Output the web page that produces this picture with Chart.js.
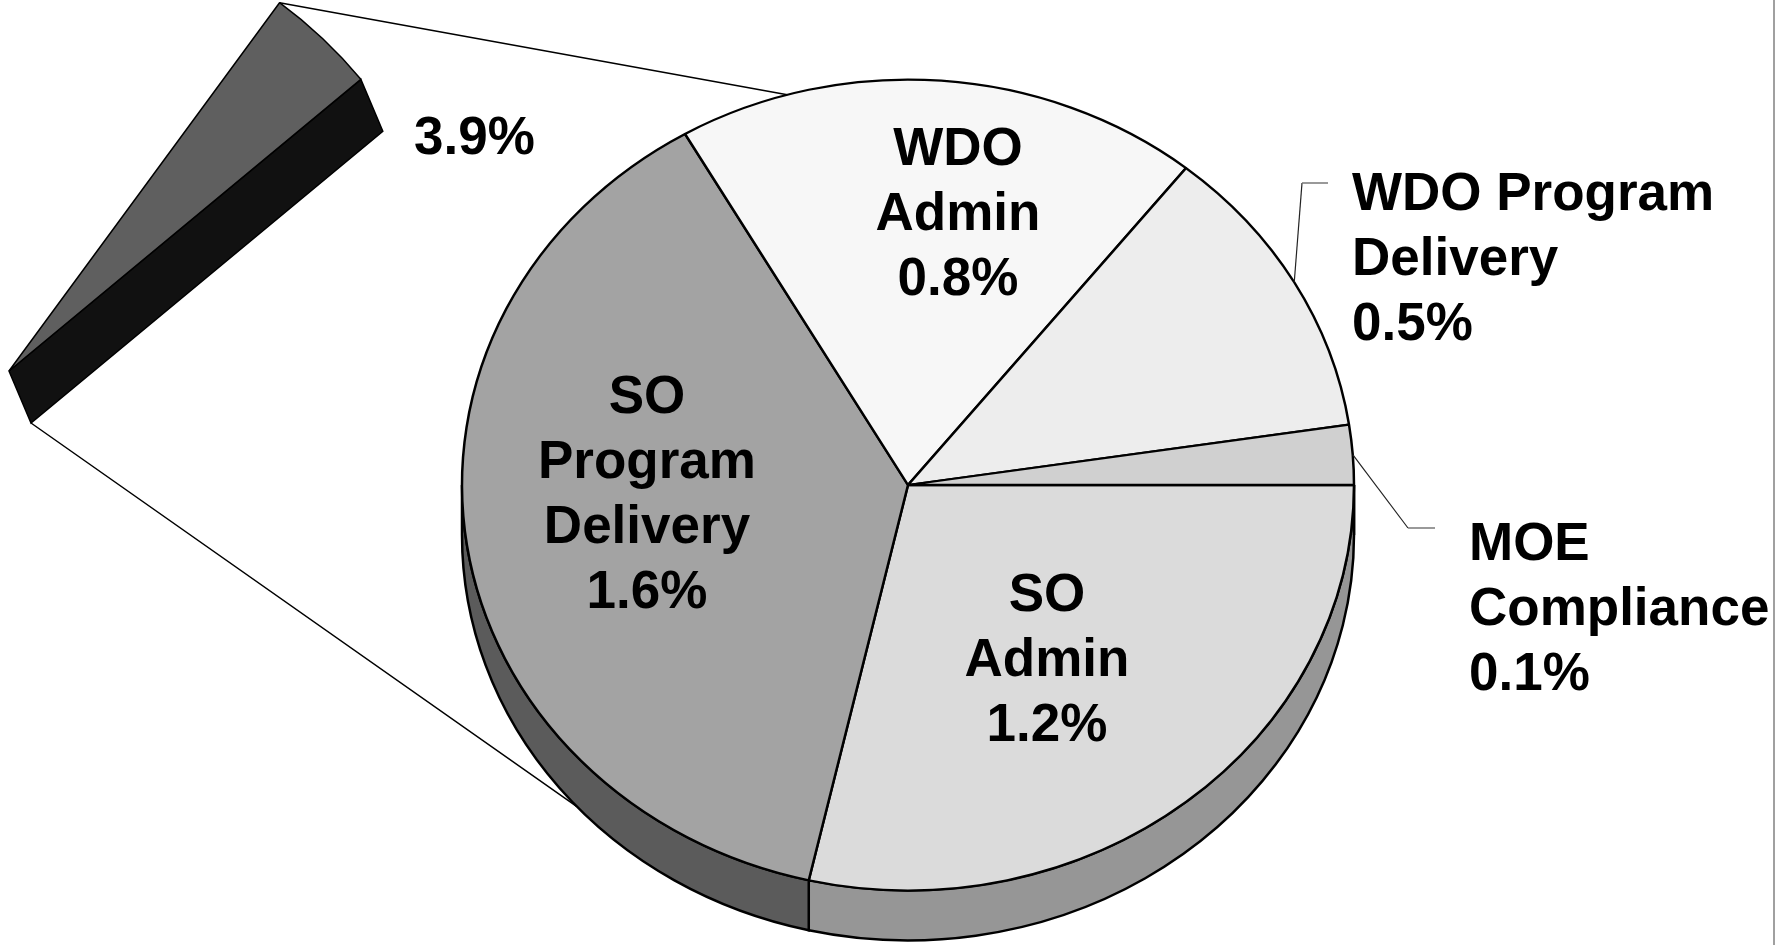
<!DOCTYPE html>
<html>
<head>
<meta charset="utf-8">
<script src="https://cdn.jsdelivr.net/npm/chart.js@4/dist/chart.umd.min.js"></script>
<style>
  html, body { margin: 0; padding: 0; background: #fff; overflow: hidden; }
  #scene { position: relative; width: 1792px; height: 945px; overflow: hidden; }
  canvas { position: absolute; }
  #graphique-principal { left: 0; top: 0; width: 1792px; height: 945px; }
  #graphique-part { left: -471px; top: -109px; width: 960px; height: 960px; }
</style>
</head>
<body>
<div id="scene">
  <canvas id="graphique-principal" width="1792" height="945"></canvas>
  <canvas id="graphique-part" width="960" height="960"></canvas>
</div>
<script>
// ── Donnees ─────────────────────────────────────────────
const categories = ['SO Admin', 'SO Program Delivery', 'WDO Admin', 'WDO Program Delivery', 'MOE Compliance'];
const valeurs    = [1.2, 1.6, 0.8, 0.5, 0.1];   // en %
const partTotale = 3.9;                           // part detachee (%)
const partReste  = 100 - partTotale;

// Decoupage des etiquettes sur plusieurs lignes
const lignesEtiquettes = [['SO', 'Admin'], ['SO', 'Program', 'Delivery'], ['WDO', 'Admin'], ['WDO Program', 'Delivery'], ['MOE', 'Compliance']];

// ── Styles / mise en page ───────────────────────────────
const couleursDessus = ['#dbdbdb', '#a3a3a3', '#f7f7f7', '#ededed', '#d0d0d0'];
const couleursCote   = ['#969696', '#5b5b5b', '#f7f7f7', '#ededed', '#a8a8a8'];
const APLAT = 0.909;       // rapport hauteur / largeur de l ellipse
const EPAISSEUR = 50;      // epaisseur 3D du camembert
const PROFONDEUR_PART = { dx: 22, dy: 52 };
const DECALAGE_PART = { x: -471, y: -109 };   // position du canvas de la part
const POLICE = "bold 53px 'Liberation Sans', Arial, sans-serif";
const INTERLIGNE = 65;

const positionsEtiquettes = [
    { x: 1047, y: 592, align: 'center' },
    { x: 647,  y: 394, align: 'center' },
    { x: 958,  y: 146, align: 'center' },
    { x: 1352, y: 191, align: 'left' },
    { x: 1469, y: 541, align: 'left' },
];
const positionTotale = { x: 414, y: 135 };
const coudesRenvois = { 3: [[1302, 183], [1328, 183]], 4: [[1408, 528], [1435, 528]] };
const anglesConnecteurs = { haut: 254.3, bas: 138 };   // sur l ellipse principale (degres)

const rad = d => d * Math.PI / 180;

function pointEllipse(arc, angle, bas) {
    return {
        x: arc.x + arc.outerRadius * Math.cos(angle),
        y: arc.y + arc.outerRadius * APLAT * Math.sin(angle) + (bas ? EPAISSEUR : 0),
    };
}

// ── Part detachee (3.9%) ────────────────────────────────
const pluginCotePart = {
    id: 'cotePart',
    beforeDatasetsDraw(chart) {
        const ctx = chart.ctx;
        const arc = chart.getDatasetMeta(0).data[0];
        const px = arc.x + arc.outerRadius * Math.cos(arc.endAngle);
        const py = arc.y + arc.outerRadius * Math.sin(arc.endAngle);
        const { dx, dy } = PROFONDEUR_PART;
        ctx.save();
        ctx.beginPath();
        ctx.moveTo(arc.x, arc.y);
        ctx.lineTo(px, py);
        ctx.lineTo(px + dx, py + dy);
        ctx.lineTo(arc.x + dx, arc.y + dy);
        ctx.closePath();
        ctx.fillStyle = '#111111';
        ctx.fill();
        ctx.lineWidth = 1.5;
        ctx.strokeStyle = '#000';
        ctx.stroke();
        ctx.restore();
    }
};

const graphiquePart = new Chart(document.getElementById('graphique-part'), {
    type: 'pie',
    data: {
        labels: ['Total', 'Reste'],
        datasets: [{
            data: [partTotale, partReste],
            backgroundColor: ['#5f5f5f', 'rgba(0,0,0,0)'],
            borderColor: ['#000', 'rgba(0,0,0,0)'],
            borderWidth: [1.5, 0],
            radius: 457,
            clip: false,
        }]
    },
    options: {
        responsive: false,
        animation: false,
        devicePixelRatio: 1,
        events: [],
        rotation: 36.3,
        plugins: { legend: { display: false }, tooltip: { enabled: false } }
    },
    plugins: [pluginCotePart]
});

// ── Camembert principal ─────────────────────────────────
const pluginRelief = {
    id: 'relief',
    beforeDatasetsDraw(chart) {
        const ctx = chart.ctx;
        const arcs = chart.getDatasetMeta(0).data;
        arcs.forEach((arc, i) => {
            const ry = arc.outerRadius * APLAT;
            [0, 2 * Math.PI].forEach(base => {
                const a0 = Math.max(arc.startAngle, base);
                const a1 = Math.min(arc.endAngle, base + Math.PI);
                if (a1 <= a0) return;
                ctx.beginPath();
                ctx.ellipse(arc.x, arc.y, arc.outerRadius, ry, 0, a0 - base, a1 - base);
                ctx.ellipse(arc.x, arc.y + EPAISSEUR, arc.outerRadius, ry, 0, a1 - base, a0 - base, true);
                ctx.closePath();
                ctx.fillStyle = couleursCote[i];
                ctx.fill();
                ctx.lineWidth = 2.5;
                ctx.strokeStyle = '#000';
                ctx.stroke();
            });
        });
        const c = arcs[0];
        ctx.save();
        ctx.translate(c.x, c.y);
        ctx.scale(1, APLAT);
        ctx.translate(-c.x, -c.y);
    },
    afterDatasetsDraw(chart) {
        chart.ctx.restore();
    },
    afterDraw(chart) {
        const ctx = chart.ctx;
        const arcs = chart.getDatasetMeta(0).data;
        const part = graphiquePart.getDatasetMeta(0).data[0];
        ctx.save();

        // connecteurs entre la part et le camembert
        const p1 = {
            x: part.x + part.outerRadius * Math.cos(part.startAngle) + DECALAGE_PART.x,
            y: part.y + part.outerRadius * Math.sin(part.startAngle) + DECALAGE_PART.y,
        };
        const p2 = {
            x: part.x + PROFONDEUR_PART.dx + DECALAGE_PART.x,
            y: part.y + PROFONDEUR_PART.dy + DECALAGE_PART.y,
        };
        const c1 = pointEllipse(arcs[0], rad(anglesConnecteurs.haut), false);
        const c2 = pointEllipse(arcs[0], rad(anglesConnecteurs.bas), true);
        ctx.strokeStyle = '#000';
        ctx.lineWidth = 1.5;
        ctx.beginPath();
        ctx.moveTo(p1.x, p1.y); ctx.lineTo(c1.x, c1.y);
        ctx.moveTo(p2.x, p2.y); ctx.lineTo(c2.x, c2.y);
        ctx.stroke();

        // lignes de renvoi des petites parts
        Object.keys(coudesRenvois).forEach(k => {
            const arc = arcs[k];
            const depart = pointEllipse(arc, (arc.startAngle + arc.endAngle) / 2, false);
            const [coude, fin] = coudesRenvois[k];
            ctx.lineWidth = 1.2;
            ctx.strokeStyle = '#222';
            ctx.beginPath();
            ctx.moveTo(depart.x, depart.y);
            ctx.lineTo(coude[0], coude[1]);
            ctx.stroke();
            ctx.strokeStyle = '#777';
            ctx.lineWidth = 1.5;
            ctx.beginPath();
            ctx.moveTo(coude[0], coude[1]);
            ctx.lineTo(fin[0], fin[1]);
            ctx.stroke();
        });

        // etiquettes
        ctx.font = POLICE;
        ctx.fillStyle = '#000';
        ctx.textBaseline = 'alphabetic';
        const decalCap = 19;
        categories.forEach((cat, i) => {
            const pos = positionsEtiquettes[i];
            const lignes = lignesEtiquettes[i].concat([valeurs[i].toFixed(1) + '%']);
            ctx.textAlign = pos.align;
            lignes.forEach((txt, j) => ctx.fillText(txt, pos.x, pos.y + j * INTERLIGNE + decalCap));
        });
        ctx.textAlign = 'left';
        ctx.fillText(partTotale.toFixed(1) + '%', positionTotale.x, positionTotale.y + decalCap);

        // bordure droite
        ctx.strokeStyle = '#a0a0a0';
        ctx.lineWidth = 2;
        ctx.beginPath();
        ctx.moveTo(1774, 0);
        ctx.lineTo(1774, 945);
        ctx.stroke();
        ctx.restore();
    }
};

new Chart(document.getElementById('graphique-principal'), {
    type: 'pie',
    data: {
        labels: categories,
        datasets: [{
            data: valeurs,
            backgroundColor: couleursDessus,
            borderColor: '#000',
            borderWidth: 2.5,
            radius: 446,
            clip: false,
        }]
    },
    options: {
        responsive: false,
        animation: false,
        devicePixelRatio: 1,
        events: [],
        rotation: 90,
        layout: { padding: { left: 24, top: 25, right: 0, bottom: 0 } },
        plugins: { legend: { display: false }, tooltip: { enabled: false } }
    },
    plugins: [pluginRelief]
});
</script>
</body>
</html>
